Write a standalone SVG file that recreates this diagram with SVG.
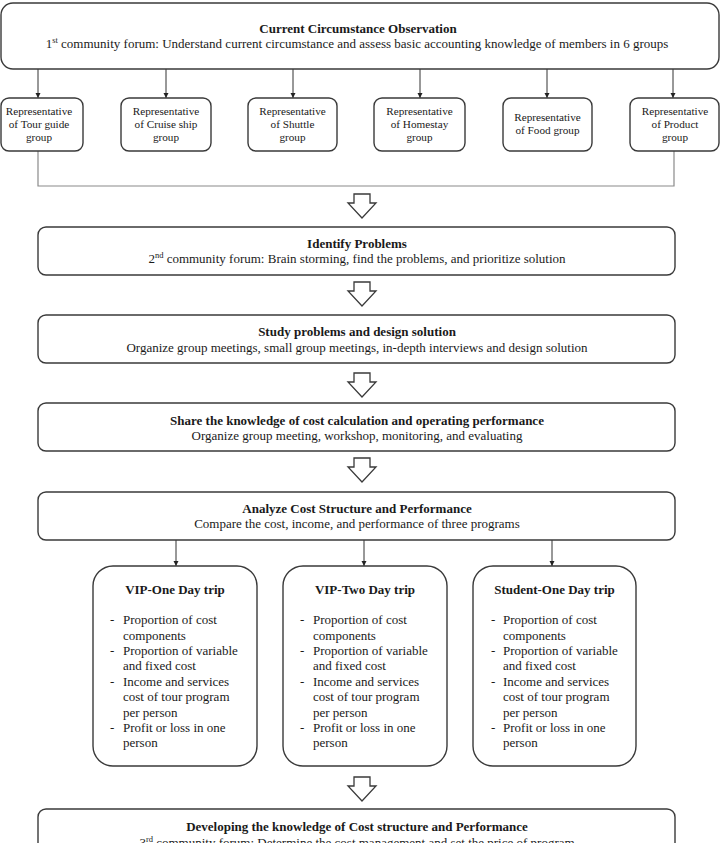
<svg xmlns="http://www.w3.org/2000/svg" width="722" height="843" viewBox="0 0 722 843">
<defs>
<style>
.box{fill:#fff;stroke:#3a3a3a;stroke-width:1.4}
.t{font-family:'Liberation Serif','Times New Roman',serif;font-size:13px;fill:#1a1a1a}
.b{font-weight:bold;text-anchor:middle}
.c{text-anchor:middle}
.r{font-family:'Liberation Serif','Times New Roman',serif;font-size:11.2px;fill:#1a1a1a;text-anchor:middle}
.ln{fill:none;stroke:#333;stroke-width:1}
.gl{fill:none;stroke:#8a8a8a;stroke-width:1.2}
.ha{fill:#fff;stroke:#3a3a3a;stroke-width:1.3;stroke-linejoin:miter}
</style>
<marker id="ah" viewBox="0 0 10 10" refX="10" refY="5" markerWidth="5" markerHeight="6" markerUnits="userSpaceOnUse" orient="auto">
<path d="M0,0 L10,5 L0,10 z" fill="#222"/>
</marker>
<path id="hollow" d="M-8,0 H8 V9 H14 L0,24 L-14,9 H-8 Z"/>
</defs>

<g id="connectors">
<line class="ln" x1="38" y1="69" x2="38" y2="98" marker-end="url(#ah)"/>
<line class="ln" x1="166" y1="69" x2="166" y2="98" marker-end="url(#ah)"/>
<line class="ln" x1="293" y1="69" x2="293" y2="98" marker-end="url(#ah)"/>
<line class="ln" x1="420" y1="69" x2="420" y2="98" marker-end="url(#ah)"/>
<line class="ln" x1="547" y1="69" x2="547" y2="98" marker-end="url(#ah)"/>
<line class="ln" x1="673" y1="69" x2="673" y2="98" marker-end="url(#ah)"/>
<path class="gl" d="M38,151 V186 H674 V151"/>
<use href="#hollow" class="ha" x="362" y="194"/>
<use href="#hollow" class="ha" x="362" y="282"/>
<use href="#hollow" class="ha" x="362" y="373"/>
<use href="#hollow" class="ha" x="362" y="458"/>
<line class="ln" x1="176" y1="540" x2="176" y2="566" marker-end="url(#ah)"/>
<line class="ln" x1="364" y1="540" x2="364" y2="566" marker-end="url(#ah)"/>
<line class="ln" x1="552" y1="540" x2="552" y2="566" marker-end="url(#ah)"/>
<use href="#hollow" class="ha" x="362" y="777"/>
</g>

<g id="observation">
<rect class="box" x="1" y="3" width="718" height="66" rx="12"/>
<text class="t b" x="358" y="33">Current Circumstance Observation</text>
<text class="t c" x="357" y="48">1<tspan font-size="8.5" dy="-5">st</tspan><tspan dy="5"> community forum: Understand current circumstance and assess basic accounting knowledge of members in 6 groups</tspan></text>
</g>

<g id="rep-tourguide">
<rect class="box" x="1" y="98" width="82" height="53" rx="8"/>
<text class="r" x="39" y="115">Representative</text>
<text class="r" x="39" y="128">of Tour guide</text>
<text class="r" x="39" y="141">group</text>
</g>
<g id="rep-cruise">
<rect class="box" x="121" y="98" width="90" height="53" rx="8"/>
<text class="r" x="166" y="115">Representative</text>
<text class="r" x="166" y="128">of Cruise ship</text>
<text class="r" x="166" y="141">group</text>
</g>
<g id="rep-shuttle">
<rect class="box" x="248" y="98" width="89" height="53" rx="8"/>
<text class="r" x="292.5" y="115">Representative</text>
<text class="r" x="292.5" y="128">of Shuttle</text>
<text class="r" x="292.5" y="141">group</text>
</g>
<g id="rep-homestay">
<rect class="box" x="374" y="98" width="91" height="53" rx="8"/>
<text class="r" x="419.5" y="115">Representative</text>
<text class="r" x="419.5" y="128">of Homestay</text>
<text class="r" x="419.5" y="141">group</text>
</g>
<g id="rep-food">
<rect class="box" x="503" y="98" width="89" height="53" rx="8"/>
<text class="r" x="547.5" y="121">Representative</text>
<text class="r" x="547.5" y="134">of Food group</text>
</g>
<g id="rep-product">
<rect class="box" x="630" y="98" width="89" height="53" rx="8"/>
<text class="r" x="675" y="115">Representative</text>
<text class="r" x="675" y="128">of Product</text>
<text class="r" x="675" y="141">group</text>
</g>

<g id="identify">
<rect class="box" x="38" y="227" width="637" height="48" rx="8"/>
<text class="t b" x="357" y="248">Identify Problems</text>
<text class="t c" x="357" y="263">2<tspan font-size="8.5" dy="-5">nd</tspan><tspan dy="5"> community forum:  Brain storming, find the problems, and prioritize solution</tspan></text>
</g>

<g id="study">
<rect class="box" x="38" y="315" width="637" height="48" rx="8"/>
<text class="t b" x="357" y="336">Study problems and design solution</text>
<text class="t c" x="357" y="352">Organize group meetings, small group meetings, in-depth interviews and design solution</text>
</g>

<g id="share">
<rect class="box" x="38" y="403" width="637" height="48" rx="8"/>
<text class="t b" x="357" y="425">Share the knowledge of cost calculation and operating performance</text>
<text class="t c" x="357" y="440">Organize group meeting, workshop, monitoring, and evaluating</text>
</g>

<g id="analyze">
<rect class="box" x="38" y="492" width="637" height="48" rx="8"/>
<text class="t b" x="357" y="513">Analyze Cost Structure and Performance</text>
<text class="t c" x="357" y="528">Compare the cost, income, and performance of three programs</text>
</g>

<g id="vip-one">
<rect class="box" x="93" y="566" width="164" height="200" rx="20"/>
<text class="t b" x="175" y="594">VIP-One Day trip</text>
<g class="t">
<text x="110" y="624">-</text><text x="123" y="624">Proportion of cost</text>
<text x="123" y="640">components</text>
<text x="110" y="655">-</text><text x="123" y="655">Proportion of variable</text>
<text x="123" y="670">and fixed cost</text>
<text x="110" y="686">-</text><text x="123" y="686">Income and services</text>
<text x="123" y="701">cost of tour program</text>
<text x="123" y="717">per person</text>
<text x="110" y="732">-</text><text x="123" y="732">Profit or loss in one</text>
<text x="123" y="747">person</text>
</g>
</g>

<g id="vip-two">
<rect class="box" x="283" y="566" width="164" height="200" rx="20"/>
<text class="t b" x="365" y="594">VIP-Two Day trip</text>
<g class="t">
<text x="300" y="624">-</text><text x="313" y="624">Proportion of cost</text>
<text x="313" y="640">components</text>
<text x="300" y="655">-</text><text x="313" y="655">Proportion of variable</text>
<text x="313" y="670">and fixed cost</text>
<text x="300" y="686">-</text><text x="313" y="686">Income and services</text>
<text x="313" y="701">cost of tour program</text>
<text x="313" y="717">per person</text>
<text x="300" y="732">-</text><text x="313" y="732">Profit or loss in one</text>
<text x="313" y="747">person</text>
</g>
</g>

<g id="student-one">
<rect class="box" x="473" y="566" width="163" height="200" rx="20"/>
<text class="t b" x="554.5" y="594">Student-One Day trip</text>
<g class="t">
<text x="491" y="624">-</text><text x="503" y="624">Proportion of cost</text>
<text x="503" y="640">components</text>
<text x="491" y="655">-</text><text x="503" y="655">Proportion of variable</text>
<text x="503" y="670">and fixed cost</text>
<text x="491" y="686">-</text><text x="503" y="686">Income and services</text>
<text x="503" y="701">cost of tour program</text>
<text x="503" y="717">per person</text>
<text x="491" y="732">-</text><text x="503" y="732">Profit or loss in one</text>
<text x="503" y="747">person</text>
</g>
</g>

<g id="developing">
<rect class="box" x="38" y="809" width="637" height="60" rx="8"/>
<text class="t b" x="357" y="831">Developing the knowledge of Cost structure and Performance</text>
<text class="t c" x="357" y="847">3<tspan font-size="8.5" dy="-5">rd</tspan><tspan dy="5"> community forum: Determine the cost management and set the price of program</tspan></text>
</g>
</svg>
